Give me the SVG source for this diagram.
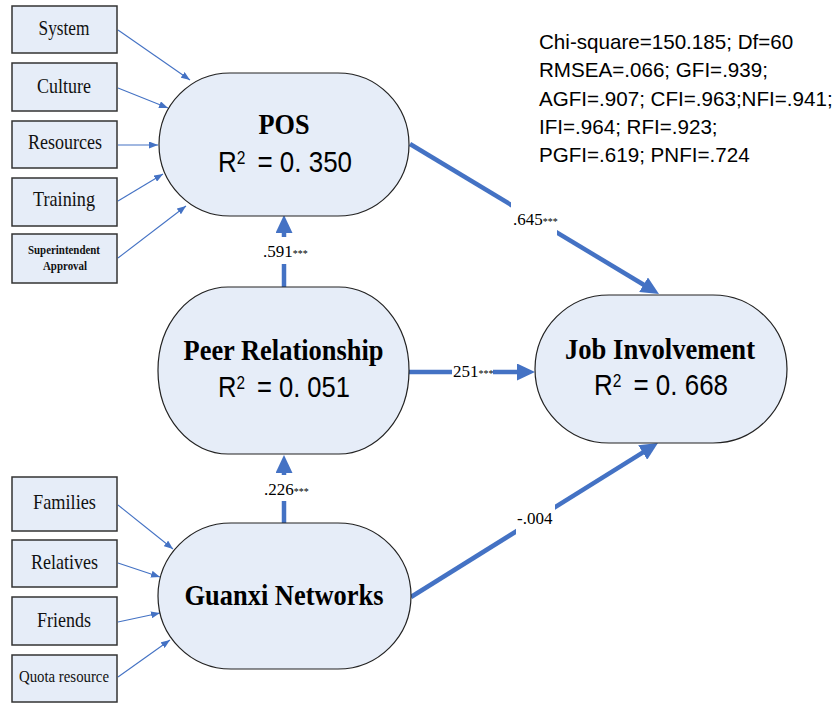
<svg xmlns="http://www.w3.org/2000/svg" width="836" height="704" viewBox="0 0 836 704">
<style>
.box{fill:#E6EDF8;stroke:#333;stroke-width:1.5}
.node{fill:#E6EDF8;stroke:#222;stroke-width:1.2}
.lbl{font-family:"Liberation Serif","Times New Roman",serif;font-size:21px;fill:#111;text-anchor:middle}
.ttl{font-family:"Liberation Serif","Times New Roman",serif;font-size:30px;font-weight:bold;fill:#000;text-anchor:middle}
.r2{font-family:"Liberation Sans",Arial,sans-serif;font-size:30px;fill:#000}
.sup{font-size:18px}
.stat{font-family:"Liberation Sans",Arial,sans-serif;font-size:20.6px;fill:#000}
.el{font-family:"Liberation Serif","Times New Roman",serif;font-size:17px;fill:#000}
.ast{font-size:10px}
.thin{stroke:#4472C4;stroke-width:1.1;fill:none}
.thick{stroke:#4472C4;stroke-width:4.5;fill:none}
.bg{fill:#fff}
</style>
<defs>
<marker id="sm" viewBox="0 0 9 7" refX="9" refY="3.5" markerWidth="9" markerHeight="7" markerUnits="userSpaceOnUse" orient="auto"><path d="M0,0 L9,3.5 L0,7 z" fill="#4472C4"/></marker>
<marker id="bg" viewBox="0 0 18 17" refX="6" refY="8.5" markerWidth="18" markerHeight="17" markerUnits="userSpaceOnUse" orient="auto"><path d="M0,0 L18,8.5 L0,17 z" fill="#4472C4"/></marker>
</defs>

<g id="connectors">
<line class="thin" x1="118" y1="30" x2="190" y2="80" marker-end="url(#sm)"/>
<line class="thin" x1="118" y1="88" x2="168" y2="108" marker-end="url(#sm)"/>
<line class="thin" x1="118" y1="145" x2="158" y2="145" marker-end="url(#sm)"/>
<line class="thin" x1="118" y1="201" x2="163" y2="174" marker-end="url(#sm)"/>
<line class="thin" x1="118" y1="258" x2="186" y2="206" marker-end="url(#sm)"/>
<line class="thin" x1="118" y1="505" x2="173" y2="549" marker-end="url(#sm)"/>
<line class="thin" x1="118" y1="563" x2="160" y2="577" marker-end="url(#sm)"/>
<line class="thin" x1="118" y1="622" x2="160" y2="613" marker-end="url(#sm)"/>
<line class="thin" x1="118" y1="677" x2="170" y2="640" marker-end="url(#sm)"/>

<line class="thick" x1="284" y1="287" x2="284" y2="227" marker-end="url(#bg)"/>
<line class="thick" x1="284" y1="523" x2="284" y2="467" marker-end="url(#bg)"/>
<line class="thick" x1="409" y1="372" x2="523" y2="372" marker-end="url(#bg)"/>
<line class="thick" x1="410" y1="144" x2="648.7" y2="287.8" marker-end="url(#bg)"/>
<line class="thick" x1="411" y1="597" x2="647.8" y2="449.3" marker-end="url(#bg)"/>

<rect class="bg" x="261" y="237" width="46" height="27"/>
<text class="el" x="263" y="257">.591<tspan class="ast">***</tspan></text>
<rect class="bg" x="261" y="475" width="46" height="26"/>
<text class="el" x="264" y="495">.226<tspan class="ast">***</tspan></text>
<rect class="bg" x="452" y="366" width="41" height="12"/>
<text class="el" x="453" y="377">251<tspan class="ast">***</tspan></text>
<rect class="bg" x="511" y="202" width="46" height="34"/>
<text class="el" x="513" y="225">.645<tspan class="ast">***</tspan></text>
<rect class="bg" x="516" y="504" width="39" height="31"/>
<text class="el" x="517" y="524">-.004</text>
</g>

<g id="system"><rect class="box" x="12" y="6" width="105" height="47"/><text class="lbl" x="64" y="35" textLength="51" lengthAdjust="spacingAndGlyphs">System</text></g>
<g id="culture"><rect class="box" x="12" y="63" width="105" height="48"/><text class="lbl" x="64" y="93" textLength="54" lengthAdjust="spacingAndGlyphs">Culture</text></g>
<g id="resources"><rect class="box" x="12" y="121" width="105" height="47"/><text class="lbl" x="65" y="149" textLength="74" lengthAdjust="spacingAndGlyphs">Resources</text></g>
<g id="training"><rect class="box" x="12" y="178" width="105" height="48"/><text class="lbl" x="64" y="206" textLength="62" lengthAdjust="spacingAndGlyphs">Training</text></g>
<g id="superintendent"><rect class="box" x="12" y="234" width="105" height="49"/>
<text class="lbl" x="64" y="254" style="font-size:13px;font-weight:bold" textLength="72" lengthAdjust="spacingAndGlyphs">Superintendent</text>
<text class="lbl" x="65" y="270" style="font-size:13px;font-weight:bold" textLength="44" lengthAdjust="spacingAndGlyphs">Approval</text></g>

<g id="families"><rect class="box" x="12" y="477" width="105" height="54"/><text class="lbl" x="64.5" y="509" textLength="63" lengthAdjust="spacingAndGlyphs">Families</text></g>
<g id="relatives"><rect class="box" x="12" y="540" width="105" height="47"/><text class="lbl" x="64.5" y="569" textLength="67" lengthAdjust="spacingAndGlyphs">Relatives</text></g>
<g id="friends"><rect class="box" x="12" y="597" width="105" height="48"/><text class="lbl" x="64" y="627" textLength="54" lengthAdjust="spacingAndGlyphs">Friends</text></g>
<g id="quota"><rect class="box" x="12" y="655" width="105" height="47"/><text class="lbl" x="64" y="682" style="font-size:17px" textLength="90" lengthAdjust="spacingAndGlyphs">Quota resource</text></g>

<g id="pos"><rect class="node" x="159" y="73" width="250" height="143" rx="71" ry="71.5"/>
<text class="ttl" x="284" y="134" textLength="51" lengthAdjust="spacingAndGlyphs">POS</text>
<text class="r2" x="218" y="172" textLength="134" lengthAdjust="spacingAndGlyphs">R<tspan class="sup" dy="-8">2</tspan><tspan dy="8" dx="14">= 0. 350</tspan></text></g>

<g id="peer"><rect class="node" x="158" y="287" width="251" height="167" rx="70" ry="83"/>
<text class="ttl" x="283.5" y="360" textLength="200" lengthAdjust="spacingAndGlyphs">Peer Relationship</text>
<text class="r2" x="218" y="397" textLength="132" lengthAdjust="spacingAndGlyphs">R<tspan class="sup" dy="-8">2</tspan><tspan dy="8" dx="14">= 0. 051</tspan></text></g>

<g id="job"><rect class="node" x="535" y="295" width="252" height="148" rx="74" ry="74"/>
<text class="ttl" x="660" y="359" textLength="190" lengthAdjust="spacingAndGlyphs">Job Involvement</text>
<text class="r2" x="594" y="395" textLength="134" lengthAdjust="spacingAndGlyphs">R<tspan class="sup" dy="-8">2</tspan><tspan dy="8" dx="14">= 0. 668</tspan></text></g>

<g id="guanxi"><rect class="node" x="158" y="523" width="253" height="146" rx="73" ry="73"/>
<text class="ttl" x="284" y="605" textLength="199" lengthAdjust="spacingAndGlyphs">Guanxi Networks</text></g>

<g id="fit-stats">
<text class="stat" x="539" y="49">Chi-square=150.185; Df=60</text>
<text class="stat" x="539" y="77">RMSEA=.066; GFI=.939;</text>
<text class="stat" x="539" y="106">AGFI=.907; CFI=.963;NFI=.941;</text>
<text class="stat" x="539" y="134">IFI=.964; RFI=.923;</text>
<text class="stat" x="539" y="162">PGFI=.619; PNFI=.724</text>
</g>
</svg>
